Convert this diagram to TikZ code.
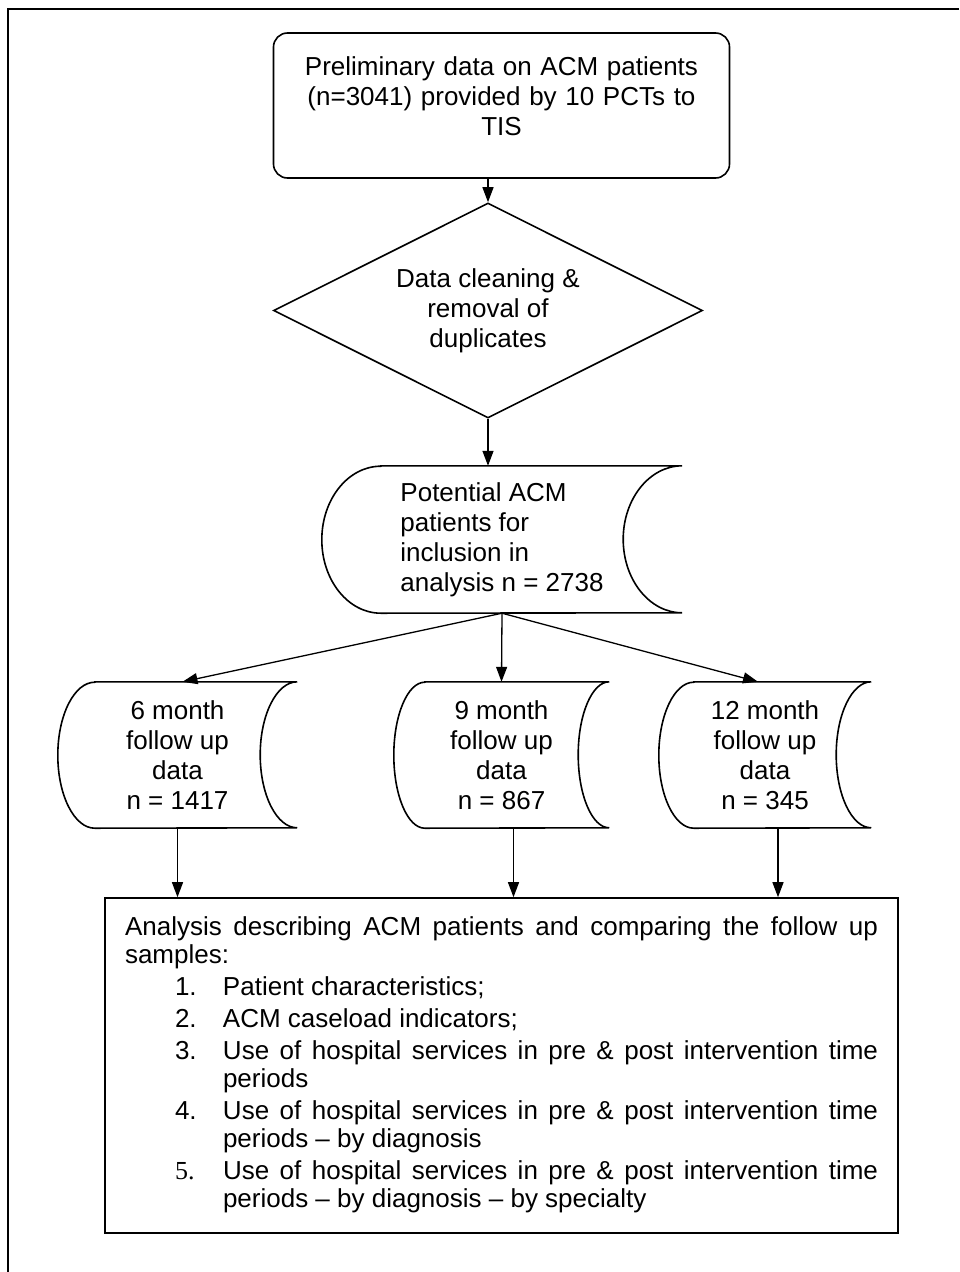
\documentclass[tikz,border=0pt]{standalone}
\usepackage{fontspec}
\setmainfont{Liberation Sans}
\newfontfamily\serifnum{Liberation Serif}
\usetikzlibrary{arrows.meta}
\usepgflibrary{shapes.geometric}

% outline of a stored-data box round node #1, bulge #2, half height #3
\newcommand{\storedoutline}[3]{%
  \draw[line width=1.6pt] ([xshift=#2]#1.north west) -- (#1.north east)
    arc[start angle=90, end angle=270, x radius=#2, y radius=#3]
    -- ([xshift=#2]#1.south west)
    arc[start angle=270, end angle=90, x radius=#2, y radius=#3] -- cycle;}
\newcommand{\listitem}[2]{\par\vskip4pt\hangindent=98pt\hangafter=1\noindent
  \hspace*{50pt}\makebox[48pt][l]{#1}#2}

\begin{document}
\begin{tikzpicture}[x=1pt, y=-1pt,
    font=\fontsize{26}{30}\selectfont,
    link/.style={-{Triangle[length=15pt,width=11pt]}, line width=1.3pt},
    box/.style={draw, line width=1.6pt}]
          \useasboundingbox (0,0) rectangle (959,1272);
          \draw[line width=2.7pt] (959,9) -- (8,9) -- (8,1272);

          \node[box, rounded corners=14pt, minimum width=456pt, minimum height=145pt,
            text width=420pt, align=center, text depth=78pt] (prelim) at (501.5,105.5)
          {Preliminary data on ACM patients\\(n=3041) provided by 10 PCTs to\\TIS};

          \node[box, diamond, aspect=2, inner sep=0pt, minimum width=429pt,
            minimum height=215pt, align=center] (cleaning) at (488,310.5)
          {Data cleaning \&\\removal of\\duplicates};

          \node[minimum width=360pt, minimum height=147pt, align=left] (potential) at (502,539.5)
          {Potential ACM\\patients for\\inclusion in\\analysis n = 2738};
          \storedoutline{potential}{59pt}{73.5pt}

          \node[minimum width=239pt, minimum height=146pt, align=center] (six) at (177.5,755)
          {6 month\\follow up\\data\\n = 1417};
          \storedoutline{six}{37pt}{73pt}
          \node[minimum width=215pt, minimum height=146pt, align=center] (nine) at (501.5,755)
          {9 month\\follow up\\data\\n = 867};
          \storedoutline{nine}{31pt}{73pt}
          \node[minimum width=212pt, minimum height=146pt, align=center] (twelve) at (765,755)
          {12 month\\follow up\\data\\n = 345};
          \storedoutline{twelve}{35pt}{73pt}

          \node[box, minimum width=793pt, minimum height=335pt, inner xsep=20pt,
            text width=753pt, align=justify, text depth=278pt,
            font=\fontsize{26}{28}\selectfont] (analysis) at (501.5,1065.5)
          {Analysis describing ACM patients and comparing the follow up samples:
            \listitem{1.}{Patient characteristics;}
            \listitem{2.}{ACM caseload indicators;}
            \listitem{3.}{Use of hospital services in pre \& post intervention time periods}
            \listitem{4.}{Use of hospital services in pre \& post intervention time periods -- by diagnosis}
            \listitem{\serifnum 5.}{Use of hospital services in pre \& post intervention time periods -- by diagnosis -- by specialty}\par};

          \draw[link] (cleaning.north |- prelim.south) -- (cleaning.north);
          \draw[link] (cleaning.south) -- (cleaning.south |- potential.north);
          \draw[link] (potential.south) -- ([xshift=5pt]six.north);
          \draw[link] (potential.south) -- (nine.north);
          \draw[link] (potential.south) -- ([xshift=-7pt]twelve.north);
          \draw[link] (six.south) -- (six.south |- analysis.north);
          \draw[link] ([xshift=12pt]nine.south) -- ([xshift=12pt]nine.south |- analysis.north);
          \draw[link] ([xshift=13pt]twelve.south) -- ([xshift=13pt]twelve.south |- analysis.north);
\end{tikzpicture}
\end{document}
